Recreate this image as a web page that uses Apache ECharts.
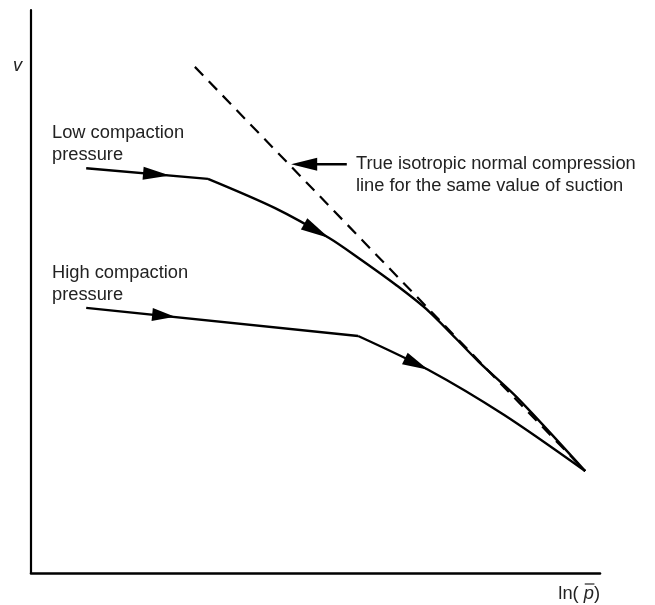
<!DOCTYPE html>
<html>
<head>
<meta charset="utf-8">
<script src="https://cdn.jsdelivr.net/npm/echarts@6/dist/echarts.min.js"></script>
<style>
html,body{margin:0;padding:0;background:#fff;}
#chart{width:655px;height:605px;}
</style>
</head>
<body>
<div id="chart"></div>
<script>
// ln(p) values (arbitrary units) and specific volume v (arbitrary units)
const lowCompX = [0.97, 3.11, 4.29, 5.24, 5.75, 6.41, 7.00, 7.87, 8.54, 9.74];
const lowCompV = [7.19, 7.00, 6.48, 5.95, 5.60, 5.12, 4.64, 3.75, 3.12, 1.81];
const highCompX = [0.97, 5.75, 6.98, 8.31, 9.74];
const highCompV = [4.71, 4.21, 3.61, 2.81, 1.81];
const nclX = [2.88, 9.74];
const nclV = [8.99, 1.81];
// arrow heads: [backX, backV, tipX, tipV]
const arrowHeads = [
  [1.97, 7.10, 2.44, 7.06],
  [4.80, 6.20, 5.24, 5.95],
  [2.13, 4.59, 2.53, 4.55],
  [6.57, 3.81, 6.98, 3.61],
  [5.03, 7.26, 4.57, 7.26]
];
// annotation pointer shaft
const pointerX = [5.55, 4.80];
const pointerV = [7.26, 7.26];

const zip = (xs, ys) => xs.map((x, i) => [x, ys[i]]);

const chart = echarts.init(document.getElementById('chart'), null, {renderer: 'canvas'});
const FAM = '"Liberation Sans", Arial, sans-serif';
const FS = 18.3;
const lineStyle = {color: '#000', width: 2.4};
const TXT = '#222';

// measure label pieces for the overline on p
const ctx = document.createElement('canvas').getContext('2d');
ctx.font = FS + 'px ' + FAM;
const wLn = ctx.measureText('ln( ').width;
const wClose = ctx.measureText(')').width;
ctx.font = 'italic ' + FS + 'px ' + FAM;
const wP = ctx.measureText('p').width;
const labelRight = 600;
const pLeft = labelRight - wClose - wP;

chart.setOption({
  animation: false,
  backgroundColor: '#fff',
  grid: {left: 31, right: 55, top: 10, bottom: 32},
  xAxis: {
    type: 'value', min: 0, max: 10,
    axisLine: {show: true, lineStyle: {color: '#000', width: 2.6}},
    axisTick: {show: false}, axisLabel: {show: false}, splitLine: {show: false}
  },
  yAxis: {
    type: 'value', min: 0, max: 10,
    axisLine: {show: true, lineStyle: {color: '#000', width: 2.2}},
    axisTick: {show: false}, axisLabel: {show: false}, splitLine: {show: false}
  },
  series: [
    {type: 'line', data: zip(nclX, nclV), symbol: 'none',
     lineStyle: {color: '#000', width: 2.2, type: [12, 8]}},
    {type: 'line', data: zip(lowCompX, lowCompV).slice(0, 2), symbol: 'none', lineStyle: lineStyle},
    {type: 'line', data: zip(lowCompX, lowCompV).slice(1), symbol: 'none', smooth: 0.3, lineStyle: lineStyle},
    {type: 'line', data: zip(highCompX, highCompV).slice(0, 2), symbol: 'none', lineStyle: lineStyle},
    {type: 'line', data: zip(highCompX, highCompV).slice(1), symbol: 'none', smooth: 0.3, lineStyle: lineStyle},
    {type: 'line', data: zip(pointerX, pointerV), symbol: 'none', lineStyle: lineStyle},
    {
      type: 'custom',
      data: arrowHeads,
      encode: {x: [0, 2], y: [1, 3]},
      renderItem: function (params, api) {
        const b = api.coord([api.value(0), api.value(1)]);
        const t = api.coord([api.value(2), api.value(3)]);
        const dx = t[0] - b[0], dy = t[1] - b[1];
        const len = Math.sqrt(dx * dx + dy * dy) || 1;
        const px = -dy / len * 6.5, py = dx / len * 6.5;
        return {
          type: 'polygon',
          shape: {points: [[t[0], t[1]], [b[0] + px, b[1] + py], [b[0] - px, b[1] - py]]},
          style: {fill: '#000'}
        };
      }
    }
  ],
  graphic: [
    {type: 'text', left: 13, top: 57,
     style: {text: 'v', font: 'italic ' + FS + 'px ' + FAM, fill: TXT}},
    {type: 'text', left: 52, top: 122,
     style: {text: 'Low compaction\npressure', font: FS + 'px ' + FAM, lineHeight: 22, fill: TXT}},
    {type: 'text', left: 52, top: 262,
     style: {text: 'High compaction\npressure', font: FS + 'px ' + FAM, lineHeight: 22, fill: TXT}},
    {type: 'text', left: 356, top: 153,
     style: {text: 'True isotropic normal compression\nline for the same value of suction', font: FS + 'px ' + FAM, lineHeight: 22, fill: TXT}},
    {type: 'text', left: labelRight - wLn - wP - wClose, top: 585,
     style: {
       text: 'ln( {p|p})',
       font: FS + 'px ' + FAM, fill: TXT,
       rich: {p: {fontStyle: 'italic', fontSize: FS, fontFamily: FAM, fill: TXT}}
     }},
    {type: 'line', shape: {x1: pLeft + 1, y1: 584, x2: pLeft + wP + 0.5, y2: 584},
     style: {stroke: TXT, lineWidth: 1.2}}
  ]
});
</script>
</body>
</html>
